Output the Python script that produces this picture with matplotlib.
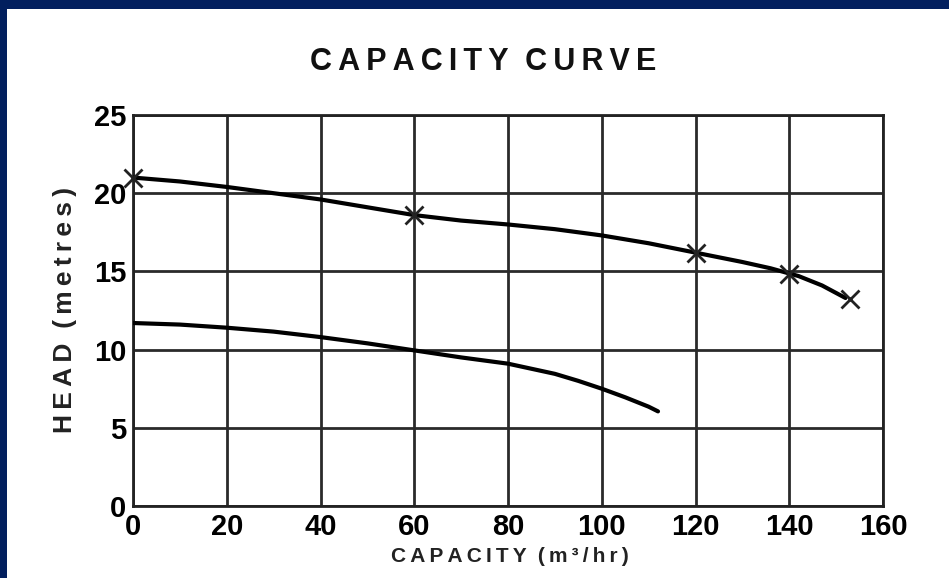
import numpy as np
import matplotlib.pyplot as plt
from matplotlib.patches import Rectangle

# ----------------
# Data
# ----------------
upper_x = [0, 10, 20, 30, 40, 50, 60, 70, 80, 90, 100, 110, 120, 130, 136, 142, 147, 152]
upper_y = [21.0, 20.75, 20.4, 20.0, 19.6, 19.1, 18.6, 18.25, 18.0, 17.7, 17.3, 16.8, 16.2, 15.6, 15.2, 14.7, 14.1, 13.3]

marker_x = [0, 60, 120, 140, 153]
marker_y = [21.0, 18.6, 16.2, 14.85, 13.25]

lower_x = [0, 10, 20, 30, 40, 50, 60, 70, 80, 90, 95, 100, 105, 110, 112]
lower_y = [11.7, 11.6, 11.4, 11.15, 10.8, 10.4, 9.95, 9.5, 9.1, 8.45, 8.0, 7.5, 6.95, 6.35, 6.05]

xticks = [0, 20, 40, 60, 80, 100, 120, 140, 160]
yticks = [0, 5, 10, 15, 20, 25]

plt.rcParams['font.family'] = ['Liberation Sans', 'DejaVu Sans']


def spaced(s):
    # the original lettering is widely tracked
    return '\u2009'.join(s)


W, H = 949, 578
fig = plt.figure(figsize=(W / 100, H / 100), dpi=100)
fig.patch.set_facecolor('#021f5e')
# white panel inside navy frame
fig.add_artist(Rectangle((7 / W, 0), 1, (H - 9) / H, transform=fig.transFigure,
                         facecolor='white', edgecolor='none', zorder=0))

ax = fig.add_axes([133 / W, 1 - 506 / H, 750 / W, 391 / H])
ax.set_xlim(0, 160)
ax.set_ylim(0, 25)
ax.set_xticks(xticks)
ax.set_yticks(yticks)
ax.tick_params(length=0, labelsize=21, pad=5)
for lab in ax.get_xticklabels() + ax.get_yticklabels():
    lab.set_fontweight('bold')
ax.grid(True, color='#2a2a2a', linewidth=2)
ax.set_axisbelow(True)
for sp in ax.spines.values():
    sp.set_linewidth(2)
    sp.set_color('#222222')

ax.plot(upper_x, upper_y, color='black', linewidth=3, solid_capstyle='round', zorder=3)
ax.plot(lower_x, lower_y, color='black', linewidth=3, solid_capstyle='round', zorder=3)
ax.plot(marker_x, marker_y, linestyle='none', marker='x', markersize=13,
        markeredgewidth=2, color='#222222', zorder=4, clip_on=False)

fig.text(483 / W, 1 - 62 / H, spaced('CAPACITY') + '  ' + spaced('CURVE'),
         ha='center', va='center', fontsize=22, fontweight='bold', color='#111111')
fig.text(510 / W, 1 - 557 / H, spaced('CAPACITY') + '  ' + spaced('(m³/hr)'),
         ha='center', va='center', fontsize=15, fontweight='bold', color='#222222')
fig.text(65 / W, 1 - 310 / H, spaced('HEAD') + '  ' + spaced('(metres)'),
         ha='center', va='center', rotation=90, fontsize=19, fontweight='bold',
         color='#222222')

plt.savefig('out.png', dpi=100, facecolor=fig.get_facecolor())
